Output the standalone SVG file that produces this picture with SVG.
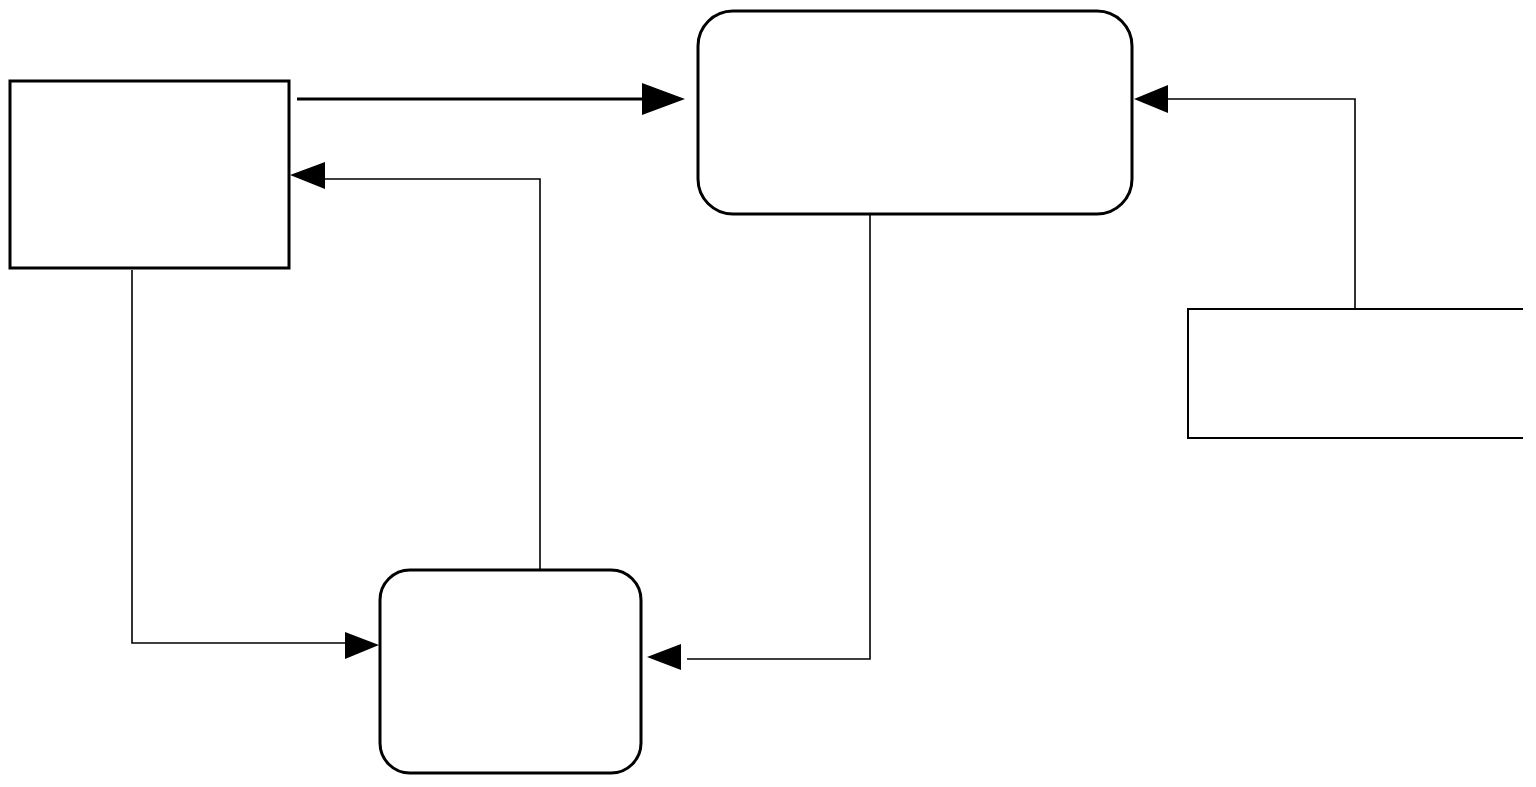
<svg xmlns="http://www.w3.org/2000/svg" width="1536" height="787" viewBox="0 0 1536 787">
<style>
.box{fill:#fff;stroke:#000;stroke-width:3}
.open{fill:none;stroke:#000;stroke-width:2}
.thin{fill:none;stroke:#000;stroke-width:1.6}
.thick{fill:none;stroke:#000;stroke-width:3}
.head{fill:#000;stroke:none}
</style>
<rect width="1536" height="787" fill="#fff"/>
<g id="node-left"><rect class="box" x="10" y="81" width="279" height="187"/></g>
<g id="node-top"><rect class="box" x="698" y="11" width="434" height="203" rx="35" ry="35"/></g>
<g id="node-bottom"><rect class="box" x="380" y="570" width="261" height="203" rx="30" ry="30"/></g>
<g id="node-right"><path class="open" d="M1523,309 H1188 V438 H1523"/></g>
<g id="connectors">
<path class="thick" d="M297,99 H645"/>
<polygon class="head" points="685,99 642,83 642,115"/>
<path class="thin" d="M1355,308 V99 H1165"/>
<polygon class="head" points="1134,99 1168,85 1168,113"/>
<path class="thin" d="M540,569 V179 H322"/>
<polygon class="head" points="290,175 325,162 325,189"/>
<path class="thin" d="M132,270 V643 H348"/>
<polygon class="head" points="379,645 345,632 345,659"/>
<path class="thin" d="M870,215 V659 H687"/>
<polygon class="head" points="647,657 681,644 681,670"/>
</g>
</svg>
